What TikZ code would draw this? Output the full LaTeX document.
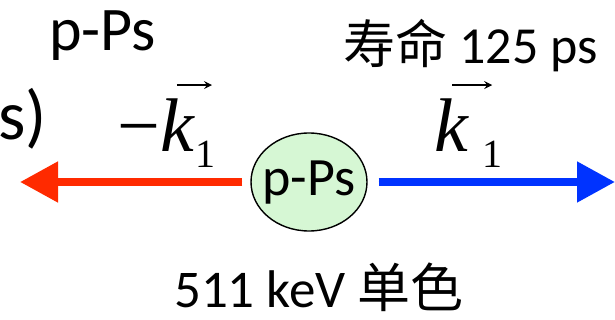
\documentclass[tikz,border=0pt]{standalone}
\usepackage{fontspec}
\setmainfont{Carlito}
\newfontfamily\cjk{Noto Sans CJK SC}
\newfontfamily\tnr{Liberation Serif}
\usetikzlibrary{arrows.meta,shapes.geometric}

\definecolor{arrred}{RGB}{255,42,0}
\definecolor{arrblue}{RGB}{0,51,255}
\definecolor{psgreen}{RGB}{214,247,212}

\begin{document}
\begin{tikzpicture}[x=1pt,y=-1pt,
  txt/.style={inner sep=0pt, font=\fontsize{53}{64}\selectfont},
  vecsym/.style={inner sep=0pt, font=\tnr\itshape\fontsize{76}{90}\selectfont},
  subsym/.style={inner sep=0pt, font=\tnr\fontsize{40}{46}\selectfont},
  bigarrow/.style={line width=8pt, -{Triangle[length=38pt,width=39pt]}},
  vecarrow/.style={line width=1.6pt, -{Stealth[length=8pt,width=8pt,inset=3pt]}},
  ball/.style={ellipse, draw=black, line width=1.4pt, fill=psgreen,
    minimum width=116pt, minimum height=98pt, inner xsep=-8pt, inner ysep=0pt,
    text height=35pt, text depth=7pt, font=\fontsize{54}{64}\selectfont}]
\useasboundingbox (0,0) rectangle (615,320);

% headings
\node[txt, font=\fontsize{62}{72}\selectfont, anchor=base west] (title) at (49,51) {p-Ps};
\node[txt, font=\fontsize{52}{62}\selectfont, anchor=base east] (life) at (598,64) {{\cjk 寿命} 125 ps};
\node[txt, font=\fontsize{70}{80}\selectfont, anchor=base east] (cut) at (47,140) {s)};
\node[txt, anchor=base west] (energy) at (174,307) {511 keV {\cjk 单色}};

% the decaying positronium
\node[ball] (ps) at (309,182) {p-Ps};

% emitted photons
\coordinate (lefttip) at (20,182);
\coordinate (righttip) at (615,182);
\draw[bigarrow, draw=arrred, fill=arrred] ([xshift=-8pt]ps.west) -- (lefttip);
\draw[bigarrow, draw=arrblue, fill=arrblue] ([xshift=11pt]ps.east) -- (righttip);

% momentum labels
\node[vecsym, anchor=base west] (kL) at (117,152) {{\upshape\char"2212}k};
\node[subsym, anchor=base west] (sL) at (195,168) {1};
\draw[vecarrow] ([shift={(-17,-14)}]kL.north east) -- ++(35,0);

\node[vecsym, anchor=base west] (kR) at (434,152) {k};
\node[subsym, anchor=base west] (sR) at (482,168) {1};
\draw[vecarrow] ([shift={(-16,-14)}]kR.north east) -- ++(40,0);
\end{tikzpicture}
\end{document}
